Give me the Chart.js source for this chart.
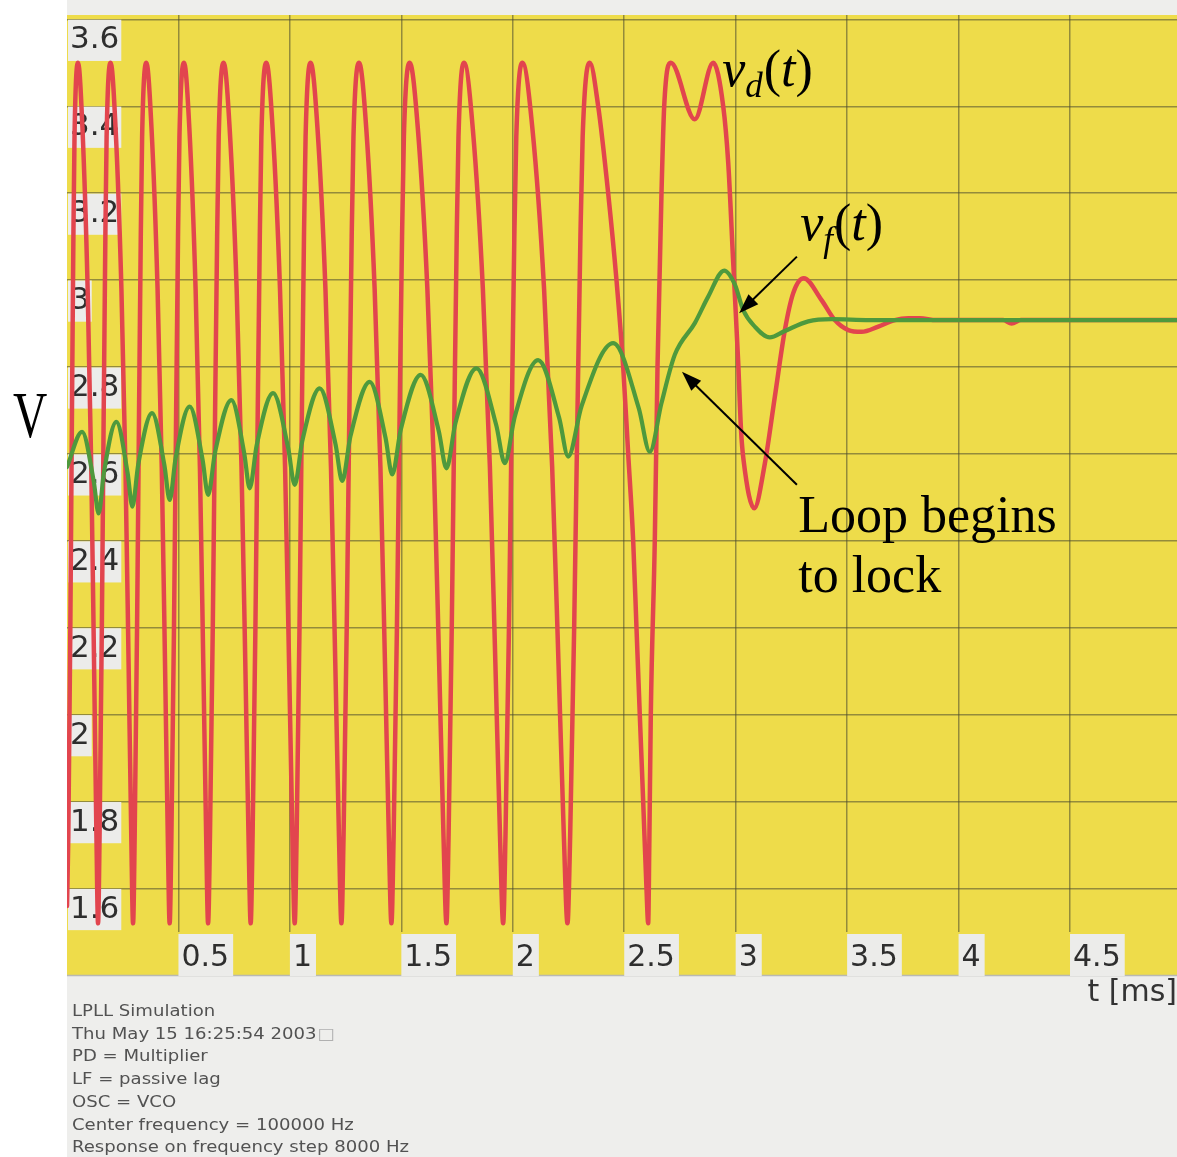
<!DOCTYPE html>
<html>
<head>
<meta charset="utf-8">
<title>LPLL Simulation – lock-in transient</title>
<script src="https://cdn.jsdelivr.net/npm/chart.js@4/dist/chart.umd.min.js"></script>
<style>
  html, body { margin: 0; padding: 0; background: #ffffff; }
  canvas { display: block; }
</style>
</head>
<body>
<canvas id="pll" width="1177" height="1157"></canvas>
<script>
// ---- Axis ticks -------------------------------------------------------
const xTickValues = [0.5, 1, 1.5, 2, 2.5, 3, 3.5, 4, 4.5];
const xTickLabels = ['0.5', '1', '1.5', '2', '2.5', '3', '3.5', '4', '4.5'];
const yTickValues = [1.6, 1.8, 2.0, 2.2, 2.4, 2.6, 2.8, 3.0, 3.2, 3.4, 3.6];
const yTickLabels = ['1.6', '1.8', '2', '2.2', '2.4', '2.6', '2.8', '3', '3.2', '3.4', '3.6'];

// ---- Phase detector output v_d(t): time [ms] / voltage [V] ------------
const vdTime = [
  0.0000, 0.0059, 0.0149, 0.0223, 0.0287, 0.0337, 0.0495,
  0.0693, 0.0926, 0.1088, 0.1213, 0.1321, 0.1393,
  0.1461, 0.1563, 0.1647, 0.1721, 0.1777, 0.1958,
  0.2179, 0.2441, 0.2622, 0.2763, 0.2884, 0.2964,
  0.3036, 0.3143, 0.3233, 0.3310, 0.3370, 0.3561,
  0.3791, 0.4063, 0.4251, 0.4397, 0.4522, 0.4606,
  0.4684, 0.4800, 0.4897, 0.4981, 0.5045, 0.5252,
  0.5489, 0.5769, 0.5963, 0.6114, 0.6244, 0.6330,
  0.6414, 0.6540, 0.6645, 0.6736, 0.6806, 0.7030,
  0.7296, 0.7611, 0.7829, 0.7999, 0.8144, 0.8241,
  0.8326, 0.8453, 0.8558, 0.8650, 0.8720, 0.8946,
  0.9225, 0.9556, 0.9784, 0.9962, 1.0114, 1.0216,
  1.0302, 1.0431, 1.0539, 1.0632, 1.0704, 1.0934,
  1.1237, 1.1595, 1.1843, 1.2036, 1.2202, 1.2312,
  1.2407, 1.2550, 1.2669, 1.2773, 1.2852, 1.3106,
  1.3425, 1.3802, 1.4062, 1.4265, 1.4439, 1.4555,
  1.4654, 1.4802, 1.4925, 1.5032, 1.5114, 1.5377,
  1.5739, 1.6168, 1.6464, 1.6695, 1.6892, 1.7024,
  1.7119, 1.7262, 1.7381, 1.7485, 1.7564, 1.7818,
  1.8203, 1.8658, 1.8973, 1.9218, 1.9428, 1.9568,
  1.9672, 1.9828, 1.9958, 2.0070, 2.0157, 2.0434,
  2.0878, 2.1404, 2.1767, 2.2050, 2.2292, 2.2454,
  2.2574, 2.2754, 2.2904, 2.3035, 2.3135, 2.3455,
  2.3832, 2.4280, 2.4653, 2.4954, 2.5178, 2.5402, 2.5550, 2.5698, 2.5851, 2.5999, 2.6075,
  2.6125, 2.6192, 2.6371, 2.6493, 2.6672, 2.6793, 2.7090,
  2.8167, 2.8992,
  2.9441, 2.9666, 2.9890, 3.0114, 3.0240, 3.0353, 3.0832,
  3.1309, 3.1758, 3.2206, 3.2582, 3.3053,
  3.3853, 3.4450, 3.5051, 3.5648, 3.6398, 3.7142, 3.7744, 3.8264,
  3.9000, 4.2000, 4.2380, 4.2800, 4.9800
];
const vdVolt = [
  1.56, 1.72, 2.20, 2.70, 3.10, 3.33, 3.50,
  3.35, 2.98, 2.57, 2.12, 1.72, 1.52,
  1.72, 2.20, 2.70, 3.10, 3.33, 3.50,
  3.35, 2.98, 2.57, 2.12, 1.72, 1.52,
  1.72, 2.20, 2.70, 3.10, 3.33, 3.50,
  3.35, 2.98, 2.57, 2.12, 1.72, 1.52,
  1.72, 2.20, 2.70, 3.10, 3.33, 3.50,
  3.35, 2.98, 2.57, 2.12, 1.72, 1.52,
  1.72, 2.20, 2.70, 3.10, 3.33, 3.50,
  3.35, 2.98, 2.57, 2.12, 1.72, 1.52,
  1.72, 2.20, 2.70, 3.10, 3.33, 3.50,
  3.35, 2.98, 2.57, 2.12, 1.72, 1.52,
  1.72, 2.20, 2.70, 3.10, 3.33, 3.50,
  3.35, 2.98, 2.57, 2.12, 1.72, 1.52,
  1.72, 2.20, 2.70, 3.10, 3.33, 3.50,
  3.35, 2.98, 2.57, 2.12, 1.72, 1.52,
  1.72, 2.20, 2.70, 3.10, 3.33, 3.50,
  3.35, 2.98, 2.57, 2.12, 1.72, 1.52,
  1.72, 2.20, 2.70, 3.10, 3.33, 3.50,
  3.35, 2.98, 2.57, 2.12, 1.72, 1.52,
  1.72, 2.20, 2.70, 3.10, 3.33, 3.50,
  3.35, 2.98, 2.57, 2.12, 1.72, 1.52,
  1.72, 2.20, 2.70, 3.10, 3.33, 3.50,
  3.40, 3.20, 3.00, 2.80, 2.60, 2.40, 2.20, 2.00, 1.80, 1.60, 1.52,
  1.70, 2.00, 2.40, 2.80, 3.20, 3.40, 3.50,
  3.37, 3.50,
  3.40, 3.27, 3.04, 2.81, 2.655, 2.586, 2.475,
  2.578, 2.732, 2.885, 2.970, 3.004,
  2.954, 2.908, 2.885, 2.881, 2.893, 2.908, 2.912, 2.912,
  2.908, 2.908, 2.900, 2.908, 2.908
];

// ---- Loop filter output v_f(t): time [ms] / voltage [V] ---------------
const vfTime = [
  0.0000, 0.0675, 0.1196, 0.1420, 0.1658, 0.2214, 0.2717, 0.2932, 0.3197,
  0.3816, 0.4369, 0.4606, 0.4875, 0.5504, 0.6082, 0.6330, 0.6644,
  0.7375, 0.7950, 0.8196, 0.8511, 0.9246, 0.9925, 1.0216, 1.0553,
  1.1338, 1.2045, 1.2348, 1.2718, 1.3582, 1.4288, 1.4591, 1.4975,
  1.5870, 1.6678, 1.7024, 1.7428, 1.8370, 1.9259, 1.9640, 2.0090,
  2.1139, 2.2081, 2.2485, 2.3091, 2.4505, 2.5654, 2.6147, 2.6672,
  2.7268, 2.8167, 2.8768, 2.9486, 2.9962, 3.0339, 3.0859, 3.1532,
  3.2206, 3.3256, 3.4302, 3.6000, 4.9800
];
const vfVolt = [
  2.570, 2.651, 2.538, 2.463, 2.558, 2.674, 2.557, 2.479, 2.576,
  2.694, 2.574, 2.494, 2.591, 2.709, 2.587, 2.506, 2.604,
  2.724, 2.602, 2.521, 2.620, 2.740, 2.613, 2.529, 2.629,
  2.751, 2.623, 2.538, 2.641, 2.766, 2.638, 2.553, 2.656,
  2.782, 2.653, 2.567, 2.671, 2.797, 2.666, 2.579, 2.686,
  2.816, 2.683, 2.594, 2.711, 2.855, 2.705, 2.605, 2.717,
  2.828, 2.901, 2.962, 3.022, 2.990, 2.931, 2.893, 2.868,
  2.883, 2.905, 2.910, 2.908, 2.908
];

// ---- Simulation settings printed under the plot -----------------------
const footerLines = [
  'LPLL Simulation',
  'Thu May 15 16:25:54 2003',
  'PD = Multiplier',
  'LF = passive lag',
  'OSC = VCO',
  'Center frequency = 100000 Hz',
  'Response on frequency step 8000 Hz'
];

const toPoints = (xs, ys) => xs.map((x, i) => ({ x: x, y: ys[i] }));

const PLOT_YELLOW = '#eedc4a';
const PAPER = '#eeeeec';
const GRID = 'rgba(72, 72, 48, 0.55)';
const SERIF = '"Liberation Serif", "Times New Roman", serif';
const SANS = '"DejaVu Sans", Verdana, sans-serif';

// Paper, yellow plot field and the band that carries the time labels.
const backgroundPlugin = {
  id: 'plotBackground',
  beforeDraw(chart) {
    const { ctx, chartArea: a, width, height } = chart;
    const bandBottom = chart.scales.x.top + 43;
    ctx.save();
    ctx.fillStyle = '#ffffff';
    ctx.fillRect(0, 0, width, height);
    ctx.fillStyle = PAPER;
    ctx.fillRect(a.left, 0, width - a.left, height);
    ctx.fillStyle = PLOT_YELLOW;
    ctx.fillRect(a.left, a.top, a.right - a.left, bandBottom - a.top);
    ctx.strokeStyle = '#b9b9b2';
    ctx.lineWidth = 1.5;
    ctx.beginPath();
    ctx.moveTo(a.left, bandBottom + 0.5);
    ctx.lineTo(a.right, bandBottom + 0.5);
    ctx.stroke();
    ctx.restore();
  }
};

function drawArrow(ctx, x1, y1, x2, y2) {
  const ang = Math.atan2(y2 - y1, x2 - x1);
  const len = 20, half = 7;
  ctx.beginPath();
  ctx.moveTo(x1, y1);
  ctx.lineTo(x2 - Math.cos(ang) * (len - 2), y2 - Math.sin(ang) * (len - 2));
  ctx.stroke();
  ctx.beginPath();
  ctx.moveTo(x2, y2);
  ctx.lineTo(x2 - Math.cos(ang) * len - Math.sin(ang) * half, y2 - Math.sin(ang) * len + Math.cos(ang) * half);
  ctx.lineTo(x2 - Math.cos(ang) * len + Math.sin(ang) * half, y2 - Math.sin(ang) * len - Math.cos(ang) * half);
  ctx.closePath();
  ctx.fill();
}

// v_sub(t) written with an italic v, subscript and argument.
function drawSignalName(ctx, x, y, sub) {
  const big = 52, small = 35;
  ctx.font = 'italic ' + big + 'px ' + SERIF;
  ctx.fillText('v', x, y);
  x += ctx.measureText('v').width;
  ctx.font = 'italic ' + small + 'px ' + SERIF;
  ctx.fillText(sub, x, y + 11);
  x += ctx.measureText(sub).width + 1;
  ctx.font = big + 'px ' + SERIF;
  ctx.fillText('(', x, y);
  x += ctx.measureText('(').width;
  ctx.font = 'italic ' + big + 'px ' + SERIF;
  ctx.fillText('t', x, y);
  x += ctx.measureText('t').width;
  ctx.font = big + 'px ' + SERIF;
  ctx.fillText(')', x, y);
}

// Signal names, arrows, axis unit and the settings block.
const annotationPlugin = {
  id: 'pllAnnotations',
  afterDatasetsDraw(chart) {
    const { ctx } = chart;
    const sx = chart.scales.x, sy = chart.scales.y;
    const px = t => sx.getPixelForValue(t);
    const py = v => sy.getPixelForValue(v);
    ctx.save();
    ctx.fillStyle = '#000000';
    ctx.strokeStyle = '#000000';
    ctx.lineWidth = 2;
    ctx.textBaseline = 'alphabetic';
    ctx.textAlign = 'left';

    drawSignalName(ctx, px(2.9395), py(3.447), 'd');
    drawSignalName(ctx, px(3.2895), py(3.092), 'f');

    drawArrow(ctx, px(3.2747), py(3.054), px(3.0152), py(2.924));
    drawArrow(ctx, px(3.2747), py(2.529), px(2.7591), py(2.789));

    ctx.font = '52px ' + SERIF;
    ctx.fillText('Loop begins', px(3.2806), py(2.420));
    ctx.fillText('to lock', px(3.2806), py(2.282));
    ctx.restore();
  },
  afterDraw(chart) {
    const { ctx, chartArea: a } = chart;
    ctx.save();
    // vertical axis unit
    ctx.fillStyle = '#000000';
    ctx.textBaseline = 'alphabetic';
    ctx.textAlign = 'left';
    ctx.translate(a.left - 54, 437);
    ctx.scale(0.72, 1);
    ctx.font = '66px ' + SERIF;
    ctx.fillText('V', 0, 0);
    ctx.restore();

    ctx.save();
    ctx.textBaseline = 'alphabetic';
    ctx.textAlign = 'left';
    const firstBaseline = chart.scales.x.top + 84;
    footerLines.forEach((line, i) => {
      ctx.save();
      ctx.translate(a.left + 5, firstBaseline + i * 22.7);
      ctx.scale(1.13, 1);
      ctx.font = '16px ' + SANS;
      ctx.fillStyle = '#525252';
      ctx.fillText(line, 0, 0);
      if (i === 1) {
        const w = ctx.measureText(line).width;
        ctx.fillStyle = '#b0b0b0';
        ctx.fillText('\u25A1', w + 1, 0);
      }
      ctx.restore();
    });
    ctx.restore();
  }
};

new Chart(document.getElementById('pll'), {
  type: 'line',
  data: {
    datasets: [
      {
        label: 'v_d(t)',
        data: toPoints(vdTime, vdVolt),
        borderColor: '#e2454e',
        borderWidth: 4.5,
        cubicInterpolationMode: 'monotone',
        pointRadius: 0,
        fill: false,
        order: 2
      },
      {
        label: 'v_f(t)',
        data: toPoints(vfTime, vfVolt),
        borderColor: '#4e993d',
        borderWidth: 4.2,
        cubicInterpolationMode: 'monotone',
        pointRadius: 0,
        fill: false,
        order: 1
      }
    ]
  },
  options: {
    responsive: false,
    animation: false,
    devicePixelRatio: 1,
    parsing: true,
    layout: { padding: { left: 67, top: 15, right: 0, bottom: 145 } },
    plugins: {
      legend: { display: false },
      tooltip: { enabled: false }
    },
    elements: {
      line: { borderJoinStyle: 'round', borderCapStyle: 'round' },
      point: { radius: 0 }
    },
    scales: {
      x: {
        type: 'linear',
        position: 'bottom',
        min: 0,
        max: 4.98,
        afterBuildTicks: s => { s.ticks = xTickValues.map(v => ({ value: v })); },
        afterFit: s => { s.height = 80; s.paddingLeft = 0; s.paddingRight = 0; },
        border: { display: false },
        grid: { color: GRID, lineWidth: 1.5, drawTicks: false },
        ticks: {
          autoSkip: false,
          maxRotation: 0,
          minRotation: 0,
          align: 'start',
          labelOffset: 3,
          padding: 8,
          color: '#2e2e2e',
          font: { family: SANS, size: 30 },
          showLabelBackdrop: true,
          backdropColor: '#ececea',
          backdropPadding: { top: 6, bottom: 0, left: 3, right: 4 },
          callback: v => xTickLabels[xTickValues.indexOf(v)]
        },
        title: {
          display: true,
          text: 't [ms]',
          align: 'end',
          color: '#333333',
          font: { family: SANS, size: 30 },
          padding: { top: 0, bottom: 1 }
        }
      },
      y: {
        type: 'linear',
        position: 'left',
        min: 1.5,
        max: 3.61,
        afterBuildTicks: s => { s.ticks = yTickValues.map(v => ({ value: v })); },
        afterFit: s => { s.width = 0; s.paddingTop = 0; s.paddingBottom = 0; },
        border: { display: false },
        grid: { color: GRID, lineWidth: 1.5, drawTicks: false },
        ticks: {
          mirror: true,
          padding: 3,
          labelOffset: 21,
          color: '#2e2e2e',
          font: { family: SANS, size: 31 },
          showLabelBackdrop: true,
          backdropColor: '#ececea',
          backdropPadding: 2,
          callback: v => yTickLabels[yTickValues.indexOf(v)]
        }
      }
    }
  },
  plugins: [backgroundPlugin, annotationPlugin]
});
</script>
</body>
</html>
